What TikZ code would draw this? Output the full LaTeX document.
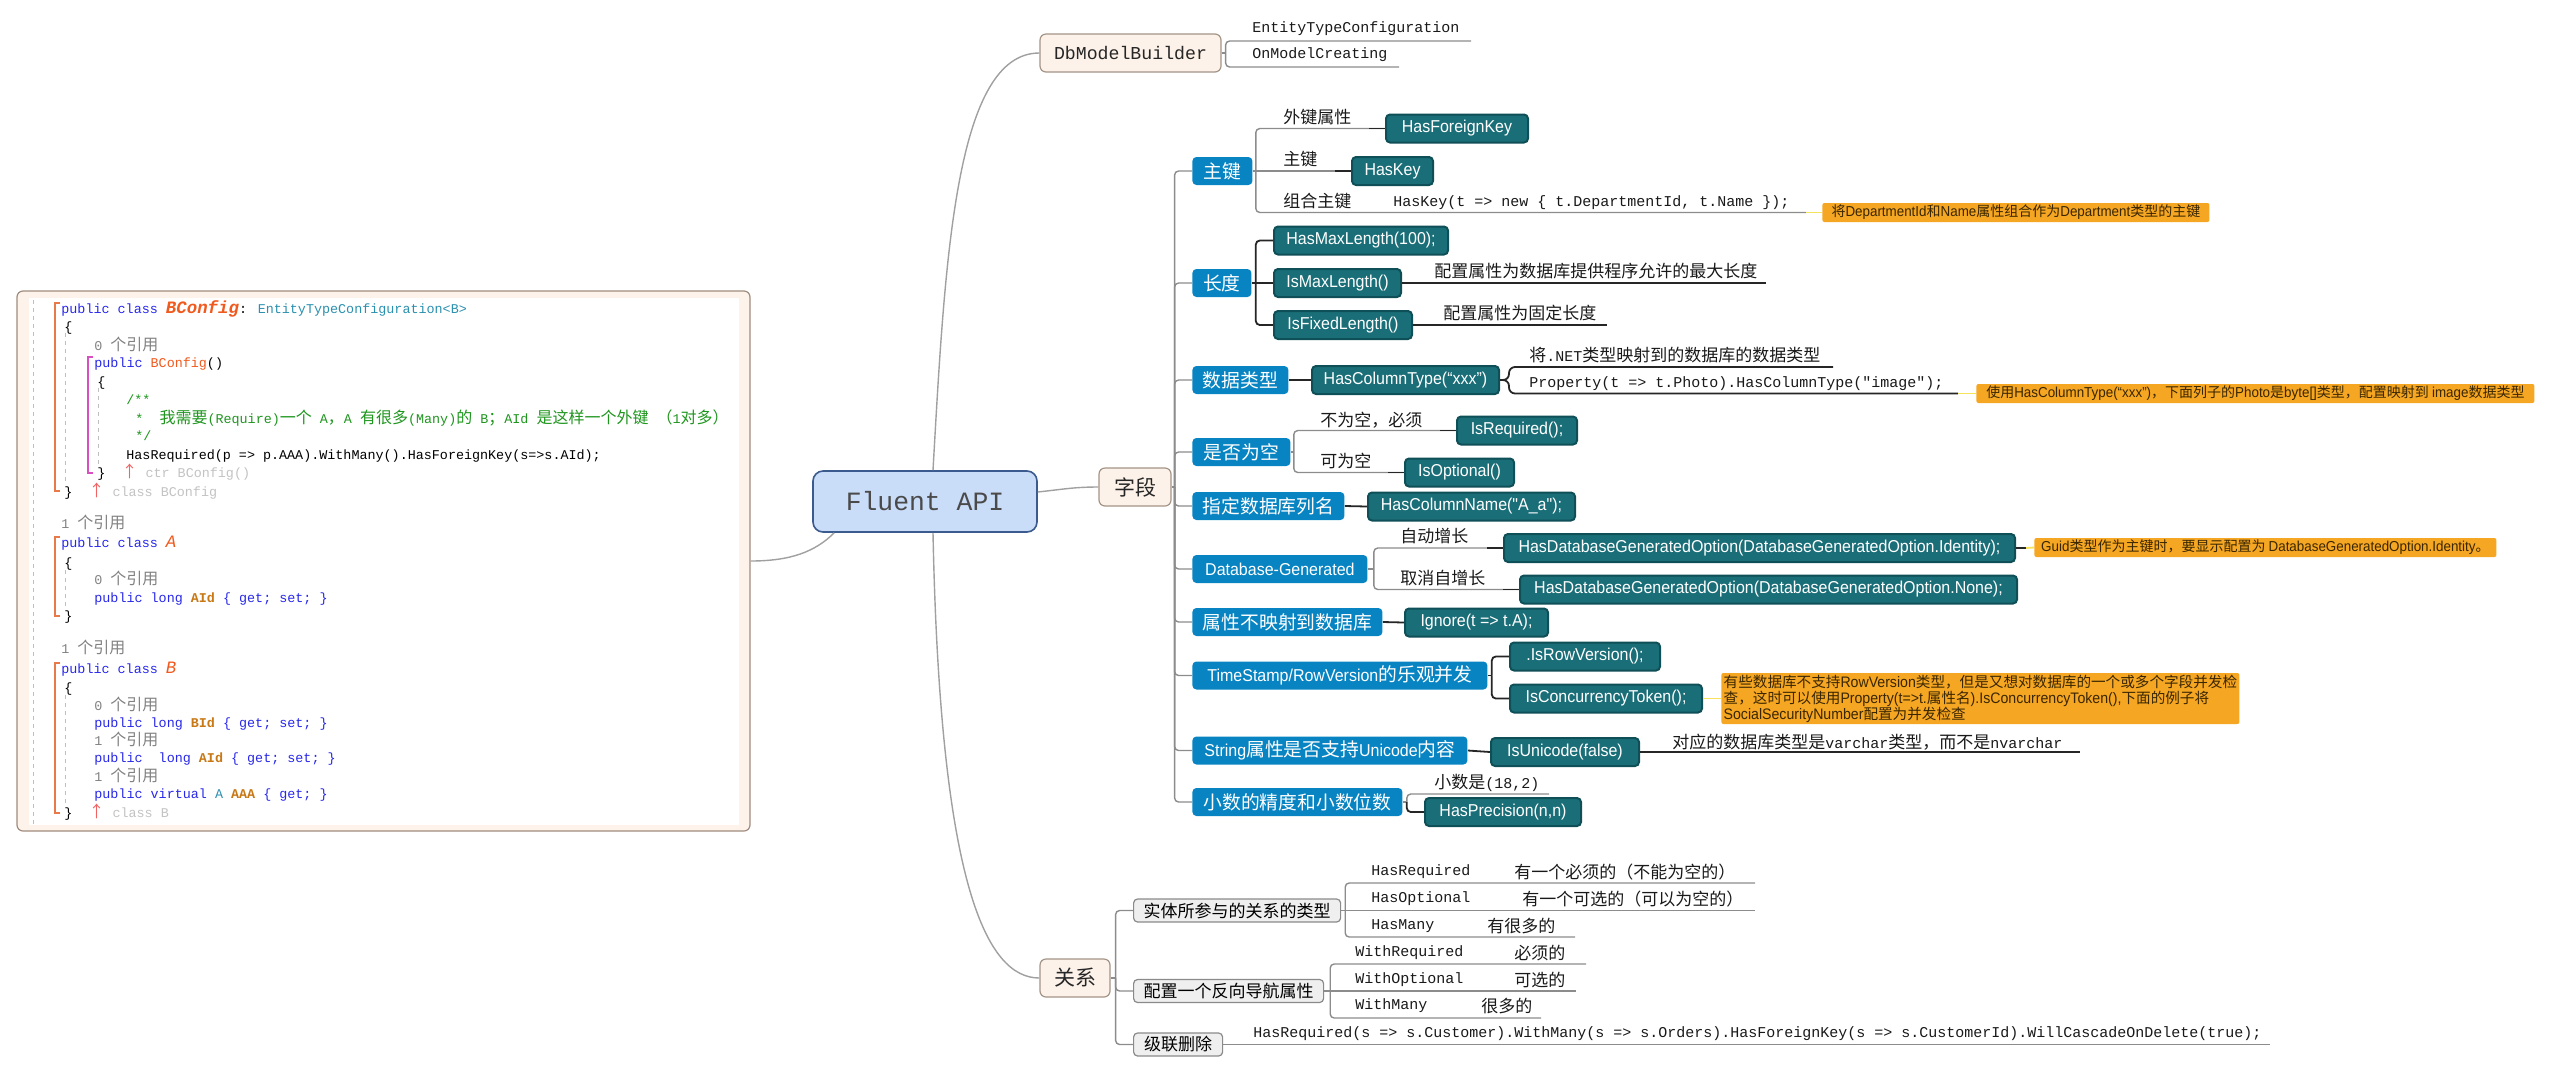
\documentclass[tikz,border=0pt]{standalone}
\usepackage{fontspec}
\setmainfont{Noto Sans CJK SC}
\setmonofont{Liberation Mono}
\newfontfamily\cjk{Noto Sans CJK SC}
\newfontfamily\lat{Liberation Sans}[FakeStretch=0.93]
\newfontfamily\codefont{Liberation Mono}
\definecolor{rootfill}{HTML}{C9DCF8}
\definecolor{rootdraw}{HTML}{3B5B8E}
\definecolor{roottext}{HTML}{4A4A4A}
\definecolor{peach}{HTML}{FDF2E9}
\definecolor{peachdraw}{HTML}{A39486}
\definecolor{subblue}{HTML}{0884C2}
\definecolor{apifill}{HTML}{1A6E78}
\definecolor{apidraw}{HTML}{0F4F57}
\definecolor{relfill}{HTML}{EFEFEF}
\definecolor{relgray}{HTML}{8A8A8A}
\definecolor{noteorange}{HTML}{F5A623}
\definecolor{notetext}{HTML}{3A2600}
\definecolor{noteyel}{HTML}{F5E35A}
\definecolor{linegray}{HTML}{8C8C8C}
\definecolor{curvegray}{HTML}{A0A0A0}
\definecolor{codeframe}{HTML}{A08C7E}
\definecolor{codebg}{HTML}{FDF3EA}
\definecolor{kw}{RGB}{40,40,235}
\definecolor{cls}{RGB}{240,90,30}
\definecolor{typ}{RGB}{43,145,175}
\definecolor{prop}{RGB}{200,120,20}
\definecolor{cmt}{RGB}{30,150,30}
\definecolor{refg}{RGB}{130,130,130}
\definecolor{hint}{RGB}{195,195,195}
\definecolor{uparr}{RGB}{240,100,100}
\definecolor{obrc}{HTML}{E87A4A}
\definecolor{mbrc}{HTML}{D94FC0}
\newcommand\la[1]{{\lat\fontsize{8.6}{10}\selectfont #1}}
\newcommand\mo[1]{{\ttfamily\fontsize{7.5}{9}\selectfont #1}}
\newcommand\zc[1]{{\cjk\fontsize{8}{8}\selectfont #1}}
\newcommand\nlat[1]{{\lat\fontsize{7.2}{8.6}\selectfont #1}}
\newcommand\nlats[1]{{\lat\fontsize{7.6}{8}\selectfont #1}}

\begin{document}
\begin{tikzpicture}[x=0.5pt,y=-0.5pt,
        bw/.style={minimum width=#1*0.5pt},
        root/.style={draw=rootdraw, fill=rootfill, line width=0.8pt, rounded corners=5pt, text=roottext, minimum width=112pt, minimum height=30.5pt, font=\ttfamily\fontsize{13.2}{15}\selectfont},
        topic/.style={draw=peachdraw, fill=peach, line width=0.6pt, rounded corners=3pt, minimum height=19pt, inner sep=0pt, text=black!85},
        sub/.style={fill=subblue, text=white, rounded corners=2pt, minimum height=14pt, inner sep=0pt, anchor=west, font=\fontsize{9.4}{11}\selectfont},
        api/.style={draw=apidraw, fill=apifill, line width=1pt, text=white, rounded corners=2pt, minimum height=14pt, inner sep=0pt, anchor=west, font=\lat\fontsize{8.6}{10}\selectfont},
        rel/.style={draw=relgray, fill=relfill, line width=0.6pt, rounded corners=2pt, minimum height=11.5pt, inner sep=0pt, anchor=west, font=\fontsize{8.5}{10}\selectfont},
        note/.style={fill=noteorange, rounded corners=1pt, inner sep=0pt, anchor=west, text=notetext, font=\fontsize{7}{8.6}\selectfont},
        lab/.style={anchor=west, inner sep=0pt, text=black!90, font=\fontsize{8.5}{10}\selectfont},
        mono/.style={anchor=west, inner sep=0pt, text=black!90, font=\ttfamily\fontsize{7.5}{9}\selectfont},
        cl/.style={anchor=mid west, inner sep=0pt, font=\codefont\fontsize{6.7}{8}\selectfont},
        link/.style={draw=linegray, line width=0.7pt, rounded corners=2pt},
        dark/.style={draw=black!85, line width=0.9pt, rounded corners=2pt},
        yel/.style={draw=noteyel, line width=0.9pt},
        curve/.style={draw=curvegray, line width=0.7pt},
        guide/.style={draw=black!25, line width=0.4pt, dash pattern=on 2pt off 2pt},
        obr/.style={draw=obrc, line width=0.8pt},
        mbr/.style={draw=mbrc, line width=0.8pt}]
        \useasboundingbox (0,0) rectangle (2550,1073);
        \node[draw=codeframe, fill=codebg, line width=0.6pt, rounded corners=3pt, minimum width=366.5pt, minimum height=270pt] (code) at (383.5,561) {};
        \fill[white] (29,298) rectangle (739,825);
        \draw[guide] (33,300) -- (33,824);
        \draw[guide] (65,333) -- (65,484);
        \draw[guide] (98,388) -- (98,466);
        \draw[guide] (65,570) -- (65,608);
        \draw[guide] (65,695) -- (65,805);
        \draw[obr] (60,303) -- (55,303) -- (55,491) -- (60,491);
        \draw[mbr] (93,357) -- (88,357) -- (88,473) -- (93,473);
        \draw[obr] (60,537) -- (55,537) -- (55,616) -- (60,616);
        \draw[obr] (60,663) -- (55,663) -- (55,813) -- (60,813);
        \node[cl] (c1) at (61,308) {{\color{kw}public class }{\color{cls}\fontsize{8.7}{9}\selectfont\bfseries\itshape BConfig}: {\color{typ}EntityTypeConfiguration<B>}};
        \node[cl] (c2) at (64,326) {\{};
        \node[cl, text=refg] (c3) at (94,345) {0 \zc{个引用}};
        \node[cl] (c4) at (94,362) {{\color{kw}public }{\color{cls}BConfig}()};
        \node[cl] (c5) at (97,381) {\{};
        \node[cl, text=cmt] (c6) at (126,399) {/**};
        \node[cl, text=cmt] (c7) at (135,418) {*\ \ \zc{我需要}(Require)\zc{一个} A\zc{，}A \zc{有很多}(Many)\zc{的} B\zc{；}AId \zc{是这样一个外键} \zc{（}1\zc{对多）}};
        \node[cl, text=cmt] (c8) at (135,435) {*/};
        \node[cl] (c9) at (126,454) {HasRequired(p => p.AAA).WithMany().HasForeignKey(s=>s.AId);};
        \node[cl] (c10) at (97,472) {\}\ \ {\color{uparr}\zc{↑}} {\color{hint}ctr BConfig()}};
        \node[cl] (c11) at (64,491) {\}\ \ {\color{uparr}\zc{↑}} {\color{hint}class BConfig}};
        \node[cl, text=refg] (c12) at (61,523) {1 \zc{个引用}};
        \node[cl] (c13) at (61,542) {{\color{kw}public class }{\color{cls}\fontsize{8.7}{9}\selectfont\itshape A}};
        \node[cl] (c14) at (64,562) {\{};
        \node[cl, text=refg] (c15) at (94,579) {0 \zc{个引用}};
        \node[cl] (c16) at (94,597) {{\color{kw}public long }{\color{prop}\bfseries AId}{\color{kw}\ \{ get; set; \}}};
        \node[cl] (c17) at (64,615) {\}};
        \node[cl, text=refg] (c18) at (61,648) {1 \zc{个引用}};
        \node[cl] (c19) at (61,668) {{\color{kw}public class }{\color{cls}\fontsize{8.7}{9}\selectfont\itshape B}};
        \node[cl] (c20) at (64,687) {\{};
        \node[cl, text=refg] (c21) at (94,705) {0 \zc{个引用}};
        \node[cl] (c22) at (94,722) {{\color{kw}public long }{\color{prop}\bfseries BId}{\color{kw}\ \{ get; set; \}}};
        \node[cl, text=refg] (c23) at (94,740) {1 \zc{个引用}};
        \node[cl] (c24) at (94,757) {{\color{kw}public\ \ long }{\color{prop}\bfseries AId}{\color{kw}\ \{ get; set; \}}};
        \node[cl, text=refg] (c25) at (94,776) {1 \zc{个引用}};
        \node[cl] (c26) at (94,793) {{\color{kw}public virtual }{\color{typ}A} {\color{prop}\bfseries AAA}{\color{kw}\ \{ get; \}}};
        \node[cl] (c27) at (64,812) {\}\ \ {\color{uparr}\zc{↑}} {\color{hint}class B}};
        \node[root] (api) at (925,501.5) {Fluent API};
        \node[topic, bw=181, font=\ttfamily\fontsize{9.1}{11}\selectfont] (dmb) at (1130.5,53) {DbModelBuilder};
        \node[topic, bw=72, font=\fontsize{10.5}{12}\selectfont] (zd) at (1135,487) {字段};
        \node[topic, bw=70, font=\fontsize{10.5}{12}\selectfont] (gx) at (1075,978) {关系};
        \node[sub, bw=60] (zj) at (1192,171) {主键};
        \node[sub, bw=59] (cd) at (1192,283) {长度};
        \node[sub, bw=96] (sjlx) at (1192,380) {数据类型};
        \node[sub, bw=98] (sfwk) at (1192,452) {是否为空};
        \node[sub, bw=152] (lm) at (1192,506) {指定数据库列名};
        \node[sub, bw=175] (dg) at (1192,569) {\la{Database-Generated}};
        \node[sub, bw=190] (bys) at (1192,622) {属性不映射到数据库};
        \node[sub, bw=295] (ts) at (1192,675.5) {\la{TimeStamp/RowVersion}的乐观并发};
        \node[sub, bw=275] (su) at (1192,750.5) {\la{String}属性是否支持\la{Unicode}内容};
        \node[sub, bw=210] (xs) at (1192,802) {小数的精度和小数位数};
        \node[api, bw=142] (hfk) at (1385,128.5) {HasForeignKey};
        \node[api, bw=81] (hk) at (1351,171) {HasKey};
        \node[api, bw=174] (hml) at (1273,240.5) {HasMaxLength(100);};
        \node[api, bw=127] (iml) at (1273,283) {IsMaxLength()};
        \node[api, bw=138] (ifl) at (1273,325) {IsFixedLength()};
        \node[api, bw=187] (hct) at (1311,380) {HasColumnType(“xxx”)};
        \node[api, bw=120] (ireq) at (1456,430.5) {IsRequired();};
        \node[api, bw=109] (iopt) at (1404,472.5) {IsOptional()};
        \node[api, bw=207] (hcn) at (1367,506.5) {HasColumnName("A\_a");};
        \node[api, bw=511] (ident) at (1503,548) {HasDatabaseGeneratedOption(DatabaseGeneratedOption.Identity);};
        \node[api, bw=497] (nonid) at (1519,589.5) {HasDatabaseGeneratedOption(DatabaseGeneratedOption.None);};
        \node[api, bw=143] (ign) at (1404,622.5) {Ignore(t => t.A);};
        \node[api, bw=150] (irv) at (1509,656.5) {.IsRowVersion();};
        \node[api, bw=192] (ict) at (1509,698.5) {IsConcurrencyToken();};
        \node[api, bw=148] (iu) at (1490,752) {IsUnicode(false)};
        \node[api, bw=156] (hp) at (1424,812) {HasPrecision(n,n)};
        \node[rel, bw=207] (stlx) at (1133,910.5) {实体所参与的关系的类型};
        \node[rel, bw=190] (fxdh) at (1133,991) {配置一个反向导航属性};
        \node[rel, bw=89] (jlsc) at (1133,1044.5) {级联删除};
        \node[note, bw=387, minimum height=9.5pt] (n1) at (1822,212.5) {将\nlat{DepartmentId}和\nlat{Name}属性组合作为\nlat{Department}类型的主键};
        \node[note, bw=558, minimum height=9.5pt] (n2) at (1976,393.5) {使用\nlat{HasColumnType(“xxx”)}，下面列子的\nlat{Photo}是\nlat{byte[]}类型，配置映射到 \nlat{image}数据类型};
        \node[note, bw=462, minimum height=9.5pt] (n3) at (2034,547.5) {\nlat{Guid}类型作为主键时，要显示配置为 \nlat{DatabaseGeneratedOption.Identity}。};
        \node[note, bw=518, minimum height=25.5pt, align=left, font=\fontsize{7.3}{8}\selectfont] (n4) at (1721,698.5) {有些数据库不支持\nlats{RowVersion}类型，但是又想对数据库的一个或多个字段并发检\\查，这时可以使用\nlats{Property(t=>t.}属性名\nlats{).IsConcurrencyToken(),}下面的例子将\\\nlats{SocialSecurityNumber}配置为并发检查};
        \node[mono] (l1) at (1252,29) {EntityTypeConfiguration};
        \node[mono] (l2) at (1252,55) {OnModelCreating};
        \node[lab] (l3) at (1283,117.5) {外键属性};
        \node[lab] (l4) at (1283,159) {主键};
        \node[lab] (l5) at (1283,201) {组合主键};
        \node[mono] (l6) at (1393,203) {HasKey(t => new \{ t.DepartmentId, t.Name \});};
        \node[lab] (l7) at (1434,271) {配置属性为数据库提供程序允许的最大长度};
        \node[lab] (l8) at (1443,313) {配置属性为固定长度};
        \node[lab] (l9) at (1529,355) {将\mo{.NET}类型映射到的数据库的数据类型};
        \node[mono] (l10) at (1529,384) {Property(t => t.Photo).HasColumnType("image");};
        \node[lab] (l11) at (1320,420) {不为空，必须};
        \node[lab] (l12) at (1320,461) {可为空};
        \node[lab] (l13) at (1400,536) {自动增长};
        \node[lab] (l14) at (1400,578) {取消自增长};
        \node[lab] (l15) at (1672,742) {对应的数据库类型是\mo{varchar}类型，而不是\mo{nvarchar}};
        \node[lab] (l16) at (1434,783) {小数是\mo{(18,2)}};
        \node[mono] (r1) at (1371,872) {HasRequired};
        \node[lab] (r1z) at (1514,872) {有一个必须的（不能为空的）};
        \node[mono] (r2) at (1371,899) {HasOptional};
        \node[lab] (r2z) at (1522,899) {有一个可选的（可以为空的）};
        \node[mono] (r3) at (1371,926) {HasMany};
        \node[lab] (r3z) at (1487,926) {有很多的};
        \node[mono] (r4) at (1355,953) {WithRequired};
        \node[lab] (r4z) at (1514,953) {必须的};
        \node[mono] (r5) at (1355,980) {WithOptional};
        \node[lab] (r5z) at (1514,980) {可选的};
        \node[mono] (r6) at (1355,1006) {WithMany};
        \node[lab] (r6z) at (1481,1006) {很多的};
        \node[mono] (r7) at (1253,1034) {HasRequired(s => s.Customer).WithMany(s => s.Orders).HasForeignKey(s => s.CustomerId).WillCascadeOnDelete(true);};
        \draw[curve] ([xshift=4pt]api.north) .. controls (945,260) and (955,53) .. (dmb.west);
        \draw[curve] ([yshift=4.75pt]api.east) .. controls (1065,489) and (1075,487) .. (zd.west);
        \draw[curve] ([xshift=4pt]api.south) .. controls (940,880) and (985,978) .. (gx.west);
        \draw[curve] ([xshift=11pt]api.south west) .. controls (815,552) and (790,561) .. (code.east);
        \coordinate (dmbj) at ([xshift=2pt]dmb.east);
        \coordinate (etc) at (1471,41);
        \coordinate (omc) at (1399,67);
        \draw[link] (dmb.east) -- (dmbj);
        \draw[link] (dmbj) |- (etc);
        \draw[link] (dmbj) |- (omc);
        \coordinate (zdj) at ([xshift=1.5pt]zd.east);
        \draw[link] (zd.east) -- (zdj);
        \foreach \n in {zj,cd,sjlx,sfwk,lm,dg,bys,ts,su,xs}
                \draw[link] (zdj) |- (\n.west);
        \coordinate (zjj) at ([xshift=1.5pt]zj.east);
        \coordinate (zhk) at (1806,212.5);
        \draw[link] (zjj) |- (hfk.west);
        \draw[link] (zj.east) -- (hk.west);
        \draw[link] (zjj) |- (zhk);
        \draw[yel] (zhk) -- (n1.west);
        \coordinate (cdj) at ([xshift=2pt]cd.east);
        \coordinate (imlx) at (1766,283);
        \coordinate (iflx) at (1607,325);
        \draw[dark] (cdj) |- (hml.west);
        \draw[dark] (cd.east) -- (iml.west);
        \draw[dark] (cdj) |- (ifl.west);
        \draw[dark] (iml.east) -- (imlx);
        \draw[dark] (ifl.east) -- (iflx);
        \draw[dark] (sjlx.east) -- (hct.west);
        \coordinate (hctj) at ([xshift=4.5pt]hct.east);
        \coordinate (hcta) at (1833,367);
        \coordinate (hctb) at (1958,393.5);
        \draw[dark, rounded corners=3pt] (hct.east) -- (hctj) |- (hcta);
        \draw[dark, rounded corners=3pt] (hct.east) -- (hctj) |- (hctb);
        \draw[yel] (hctb) -- (n2.west);
        \coordinate (sfj) at ([xshift=1.5pt]sfwk.east);
        \draw[link] (sfwk.east) -- (sfj);
        \draw[link] (sfj) |- (ireq.west);
        \draw[link] (sfj) |- (iopt.west);
        \draw[dark] (lm.east) -- (hcn.west);
        \coordinate (dgj) at ([xshift=3pt]dg.east);
        \draw[link] (dg.east) -- (dgj);
        \draw[link] (dgj) |- (ident.west);
        \draw[link] (dgj) |- (nonid.west);
        \draw[dark] (ident.east) -- ++(10,0) coordinate (identj);
        \draw[yel] (identj) -- (n3.west);
        \draw[dark] (bys.east) -- (ign.west);
        \coordinate (tsj) at ([xshift=2pt]ts.east);
        \draw[dark] (ts.east) -- (tsj);
        \draw[dark] (tsj) |- (irv.west);
        \draw[dark] (tsj) |- (ict.west);
        \draw[yel] (ict.east) -- (n4.west);
        \coordinate (iux) at (2080,752);
        \draw[dark] (su.east) -- (iu.west);
        \draw[dark] (iu.east) -- (iux);
        \coordinate (xsj) at ([xshift=2pt]xs.east);
        \coordinate (xsa) at (1549,794);
        \draw[link] (xs.east) -- (xsj);
        \draw[link] (xsj) |- (xsa);
        \draw[dark] (xsj) |- (hp.west);
        \foreach \n in {hfk,hk,ireq,iopt,ident,nonid}
                \draw[dark] ([xshift=-8pt]\n.west) -- (\n.west);
        \coordinate (gxj) at ([xshift=2.5pt]gx.east);
        \draw[link] (gx.east) -- (gxj);
        \foreach \n in {stlx,fxdh,jlsc}
                \draw[link] (gxj) |- (\n.west);
        \coordinate (stj) at ([xshift=2pt]stlx.east);
        \coordinate (sta) at (1755,883);
        \coordinate (stb) at (1755,910.5);
        \coordinate (stc) at (1575,937);
        \draw[link] (stj) |- (sta);
        \draw[link] (stlx.east) -- (stb);
        \draw[link] (stj) |- (stc);
        \coordinate (fxj) at ([xshift=3pt]fxdh.east);
        \coordinate (fxa) at (1586,964);
        \coordinate (fxb) at (1576,991);
        \coordinate (fxc) at (1541,1018);
        \draw[link] (fxj) |- (fxa);
        \draw[link] (fxdh.east) -- (fxb);
        \draw[link] (fxj) |- (fxc);
        \coordinate (jlx) at (2270,1044.5);
        \draw[link] (jlsc.east) -- (jlx);
\end{tikzpicture}
\end{document}
